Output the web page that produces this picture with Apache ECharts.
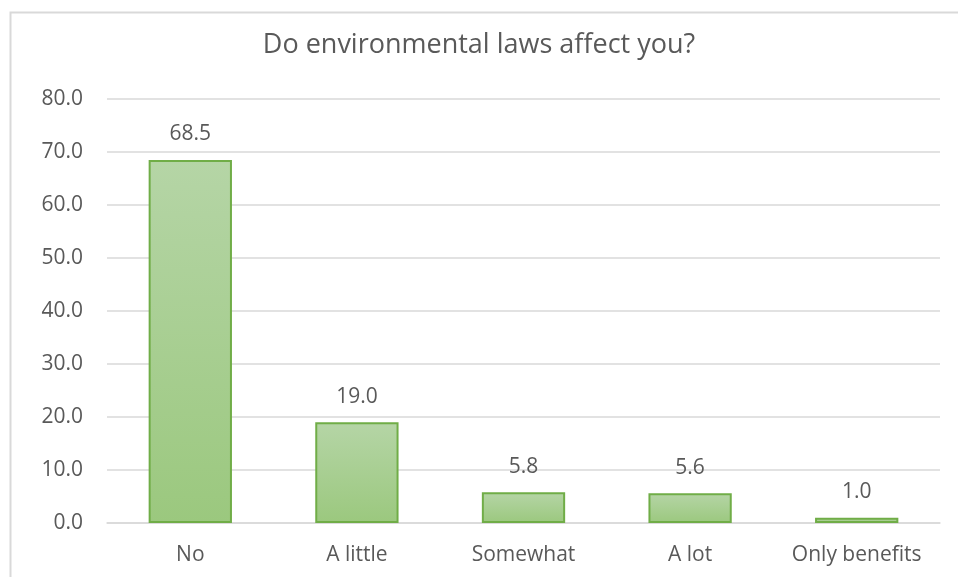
<!DOCTYPE html>
<html><head><meta charset="utf-8">
<script src="https://cdn.jsdelivr.net/npm/echarts@6/dist/echarts.min.js"></script>
<style>html,body{margin:0;padding:0;background:#fff}#c{width:958px;height:577px}</style>
</head><body><div id="c"></div>
<script>
const categories = ['No', 'A little', 'Somewhat', 'A lot', 'Only benefits'];
const values = [68.5, 19.0, 5.8, 5.6, 1.0];
const yTicks = { min: 0, max: 80, interval: 10 };
const titleText = 'Do environmental laws affect you?';

const chart = echarts.init(document.getElementById('c'));
const font = 'Open Sans';
chart.setOption({
  animation: false,
  backgroundColor: '#fff',
  graphic: [{
    type: 'rect', left: 8, top: 10, shape: { width: 1000, height: 600 },
    style: { fill: 'none', stroke: '#d9d9d9', lineWidth: 2 }, silent: true, z: -1
  }],
  title: {
    text: titleText, left: 'center', top: 27,
    textStyle: { fontFamily: font, fontSize: 27, fontWeight: 'normal', color: '#595959' }
  },
  grid: { left: 107, right: 18, top: 99, bottom: 54 },
  xAxis: {
    type: 'category', data: categories,
    axisLine: { lineStyle: { color: '#d9d9d9', width: 1.5 } },
    axisTick: { show: false },
    axisLabel: { color: '#595959', fontFamily: font, fontSize: 21, margin: 22, interval: 0 }
  },
  yAxis: {
    type: 'value', min: yTicks.min, max: yTicks.max, interval: yTicks.interval,
    axisLine: { show: false }, axisTick: { show: false },
    splitLine: { lineStyle: { color: '#d9d9d9', width: 1.5 } },
    axisLabel: { color: '#595959', fontFamily: font, fontSize: 21, margin: 24,
      formatter: v => v.toFixed(1) }
  },
  series: [{
    type: 'bar', data: values, barWidth: '50%',
    itemStyle: {
      color: new echarts.graphic.LinearGradient(0, 0, 0, 1, [
        { offset: 0, color: '#b5d5a6' }, { offset: 1, color: '#9bc87e' }
      ]),
      borderColor: '#70ad47', borderWidth: 2
    },
    label: { show: true, position: 'top', distance: 15, color: '#595959',
      fontFamily: font, fontSize: 21, formatter: p => p.value.toFixed(1) }
  }]
});
</script></body></html>
